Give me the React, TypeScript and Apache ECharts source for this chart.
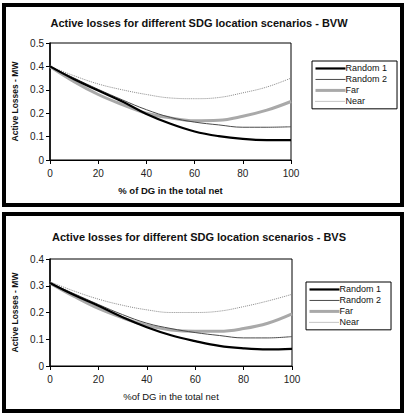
import React, { useEffect, useRef } from "react";
import * as echarts from "echarts";

const xValues = [0, 10, 20, 30, 40, 50, 60, 70, 80, 90, 100];
const seriesNames = ["Random 1", "Random 2", "Far", "Near"];

// BVW (top chart)
const bvwRandom1 = [0.4, 0.345, 0.297, 0.25, 0.197, 0.155, 0.122, 0.102, 0.09, 0.085, 0.085];
const bvwRandom2 = [0.4, 0.35, 0.302, 0.257, 0.215, 0.182, 0.162, 0.15, 0.14, 0.14, 0.142];
const bvwFar = [0.4, 0.335, 0.28, 0.237, 0.2, 0.18, 0.168, 0.17, 0.187, 0.213, 0.25];
const bvwNear = [0.4, 0.36, 0.325, 0.3, 0.28, 0.265, 0.262, 0.267, 0.287, 0.312, 0.35];

// BVS (bottom chart)
const bvsRandom1 = [0.31, 0.265, 0.225, 0.182, 0.145, 0.115, 0.093, 0.075, 0.066, 0.062, 0.064];
const bvsRandom2 = [0.31, 0.27, 0.23, 0.192, 0.16, 0.14, 0.125, 0.114, 0.105, 0.105, 0.11];
const bvsFar = [0.31, 0.26, 0.215, 0.18, 0.152, 0.135, 0.13, 0.13, 0.14, 0.16, 0.195];
const bvsNear = [0.315, 0.28, 0.25, 0.227, 0.21, 0.2, 0.2, 0.205, 0.222, 0.243, 0.268];

const titles = [
  "Active losses for different SDG location scenarios - BVW",
  "Active losses for different SDG location scenarios - BVS",
];
const xNames = ["% of DG in the total net", "%of DG in the total net"];
const yName = "Active Losses - MW";
const yMax = [0.5, 0.4];

const FONT = "Liberation Sans, Arial, sans-serif";

const styles = [
  { color: "#000000", width: 2.2, type: "solid" },
  { color: "#4a4a4a", width: 1, type: "solid" },
  { color: "#a9a9a9", width: 3, type: "solid" },
  { color: "#8a8a8a", width: 1, type: "dotted" },
];

const pair = (ys: number[]) => xValues.map((x, i) => [x, ys[i]]);

export default function App() {
  const ref = useRef<HTMLDivElement>(null);
  useEffect(() => {
    if (!ref.current) return;
    const chart = echarts.init(ref.current, undefined, { renderer: "svg" });
    const dataSets = [
      [bvwRandom1, bvwRandom2, bvwFar, bvwNear],
      [bvsRandom1, bvsRandom2, bvsFar, bvsNear],
    ];
    const series: any[] = [];
    dataSets.forEach((set, gi) => {
      set.forEach((ys, si) => {
        series.push({
          type: "line",
          name: seriesNames[si],
          xAxisIndex: gi,
          yAxisIndex: gi,
          data: pair(ys),
          smooth: 0.4,
          symbol: "none",
          showSymbol: false,
          lineStyle: { ...styles[si] },
          itemStyle: { color: styles[si].color },
          z: 10 - si,
        });
      });
    });
    const grids = [
      { left: 50, top: 43, width: 241, height: 117 },
      { left: 50, top: 259, width: 242, height: 107 },
    ];
    const titleTops = [17, 231];
    const legendPos = [
      { left: 312, top: 61 },
      { left: 306, top: 282 },
    ];
    const option: any = {
      animation: false,
      backgroundColor: "#ffffff",
      textStyle: { fontFamily: FONT },
      title: titles.map((t, i) => ({
        text: t,
        left: 199,
        textAlign: "center",
        top: titleTops[i],
        padding: 0,
        textStyle: { fontFamily: FONT, fontSize: 11, fontWeight: "bold", color: "#111" },
      })),
      grid: grids.map((g) => ({
        ...g,
        show: true,
        borderColor: "#000",
        borderWidth: 1,
        backgroundColor: "transparent",
        containLabel: false,
      })),
      legend: legendPos.map((p) => ({
        ...p,
        orient: "vertical",
        data: seriesNames.map((n, si) => ({
          name: n,
          lineStyle: { ...styles[si] },
        })),
        itemWidth: 30,
        itemHeight: 13.7,
        itemGap: 0,
        padding: [2, 10, 2, 2],
        borderColor: "#000",
        borderWidth: 1,
        backgroundColor: "#fff",
        selectedMode: false,
        itemStyle: { opacity: 0 },
        textStyle: { fontFamily: FONT, fontSize: 9, color: "#111", padding: [0, 0, 0, -5] },
      })),
      xAxis: [0, 1].map((i) => ({
        type: "value",
        gridIndex: i,
        min: 0,
        max: 100,
        interval: 20,
        name: xNames[i],
        nameLocation: "middle",
        nameGap: 25,
        nameTextStyle: {
          fontFamily: FONT,
          fontSize: 9.5,
          fontWeight: i === 0 ? "bold" : "normal",
          color: "#111",
        },
        axisLine: { show: true, lineStyle: { color: "#000", width: 1.2 } },
        axisTick: { show: true, inside: false, length: 4, lineStyle: { color: "#000" } },
        axisLabel: { fontFamily: FONT, fontSize: 10, color: "#222", margin: 8 },
        splitLine: { show: false },
      })),
      yAxis: [0, 1].map((i) => ({
        type: "value",
        gridIndex: i,
        min: 0,
        max: yMax[i],
        interval: 0.1,
        name: yName,
        nameLocation: "middle",
        nameRotate: 90,
        nameGap: 26,
        nameTextStyle: { fontFamily: FONT, fontSize: 8.5, fontWeight: "bold", color: "#111" },
        axisLine: { show: true, lineStyle: { color: "#000", width: 1.5 } },
        axisTick: { show: true, inside: false, length: 4, lineStyle: { color: "#000" } },
        axisLabel: { fontFamily: FONT, fontSize: 10, color: "#222", margin: 6 },
        splitLine: { show: false },
      })),
      graphic: [
        {
          type: "rect",
          shape: { x: 4, y: 5, width: 398, height: 200 },
          style: { fill: "none", stroke: "#000", lineWidth: 4 },
          silent: true,
        },
        {
          type: "rect",
          shape: { x: 4, y: 214, width: 398, height: 197 },
          style: { fill: "none", stroke: "#000", lineWidth: 4 },
          silent: true,
        },
      ],
      series,
    };
    chart.setOption(option);
    return () => chart.dispose();
  }, []);
  return (
    <div
      ref={ref}
      style={{ position: "fixed", left: 0, top: 0, width: 407, height: 415, background: "#fff" }}
    />
  );
}
